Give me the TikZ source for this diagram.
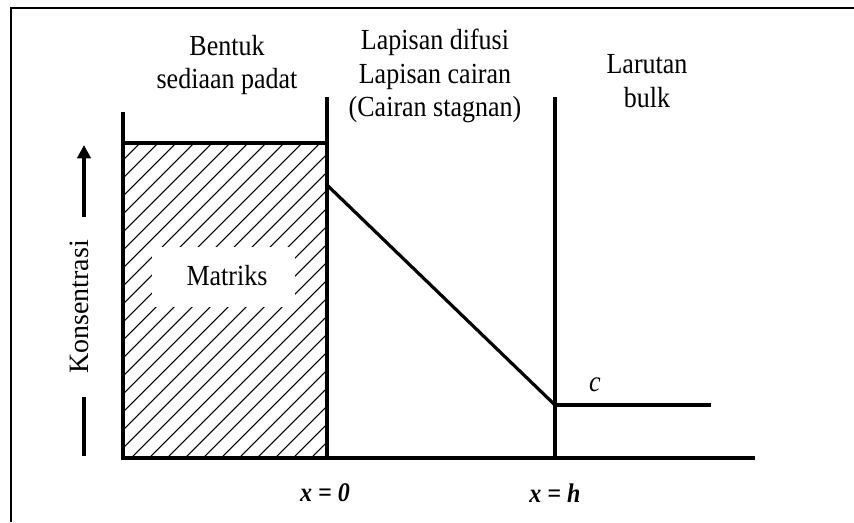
\documentclass[tikz,border=0pt]{standalone}
\usepackage{fontspec}
\setmainfont{Liberation Serif}
\usetikzlibrary{arrows.meta}
\newcommand{\vstretch}[1]{\scalebox{1}[1.12]{#1}}
\begin{document}
\begin{tikzpicture}[x=0.75pt,y=-0.75pt,
  wall/.style={line width=3pt},
  hatchline/.style={line width=0.8pt},
  lbl/.style={font=\fontsize{19.5}{25}\selectfont, align=center, inner sep=0pt},
  xlbl/.style={font=\fontsize{18}{22}\selectfont\bfseries\itshape, inner sep=0pt}]
\useasboundingbox (0,0) rectangle (854,522);
\fill[white] (0,0) rectangle (854,522);
% frame
\coordinate (fbl) at (11,522);
\coordinate (ftl) at (11,8);
\coordinate (ftr) at (854,8);
\draw[line width=1.2pt] (fbl) -- (ftl) -- (ftr);
% key points
\coordinate (lwtop) at (122.5,112);
\coordinate (lwbot) at (122.5,458);
\coordinate (mwtop) at (327,97);
\coordinate (mwbot) at (327,458);
\coordinate (rwtop) at (555,97);
\coordinate (rwbot) at (555,458);
\coordinate (baseend) at (753,458);
\coordinate (htl) at (122.5,143);
\coordinate (htr) at (327,143);
\coordinate (sstart) at (327,185);
\coordinate (send) at (555,405);
\coordinate (cend) at (711,405);
% hatching
\begin{scope}
\clip (htl) rectangle (mwbot);
\foreach \k in {265,283,...,800}
  \draw[hatchline] ({\k-458},458) -- ({\k-143},143);
\end{scope}
% white patch behind label
\fill[white] (152,247) rectangle (295,307);
\node[lbl] (matriks) at (227,276) {\vstretch{Matriks}};
% walls and lines
\draw[wall] (lwtop) -- (lwbot);
\draw[wall] (mwtop) -- (mwbot);
\draw[wall] (rwtop) -- (rwbot);
\draw[wall] (htl) -- (htr);
\draw[wall,line cap=rect] (lwbot) -- (baseend);
\draw[line width=2.4pt] (sstart) -- (send);
\draw[wall] (send) -- (cend);
% concentration axis
\coordinate (arbot) at (84,217);
\coordinate (artop) at (84,145);
\draw[line width=2.6pt,-{Triangle[length=10pt,width=10pt]}] (arbot) -- (artop);
\coordinate (lbtop) at (84,397);
\coordinate (lbbot) at (84,456);
\draw[line width=2.6pt] (lbtop) -- (lbbot);
\node[lbl,rotate=90,font=\fontsize{21}{25}\selectfont] (kons) at (79,307) {Konsentrasi};
% labels
\node[lbl] (bentuk) at (227,65) {\vstretch{Bentuk}\\\vstretch{sediaan padat}};
\node[lbl] (lapisan) at (435,76) {\vstretch{Lapisan difusi}\\\vstretch{Lapisan cairan}\\\vstretch{(Cairan stagnan)}};
\node[lbl] (larutan) at (647,81) {\vstretch{Larutan}\\\vstretch{bulk}};
\node[lbl,font=\fontsize{19.5}{25}\selectfont\itshape] (c) at (595,385) {\vstretch{c}};
\node[xlbl] (x0) at (325,493) {\vstretch{x = 0}};
\node[xlbl] (xh) at (555,493) {\vstretch{x = h}};
\end{tikzpicture}
\end{document}
